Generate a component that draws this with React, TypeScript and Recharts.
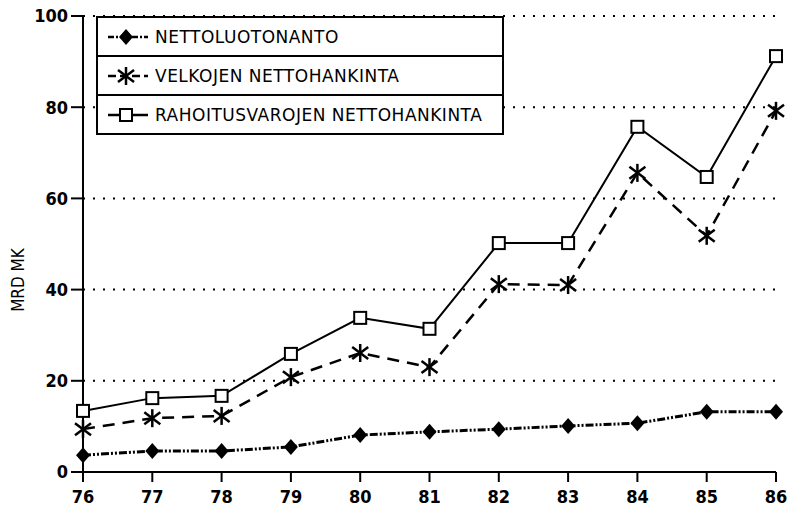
import { LineChart, Line, XAxis, YAxis, CartesianGrid } from 'recharts';

const years = ['76', '77', '78', '79', '80', '81', '82', '83', '84', '85', '86'];
const nettoluotonanto = [3.7, 4.6, 4.6, 5.5, 8.1, 8.8, 9.4, 10.1, 10.7, 13.2, 13.2];
const velkojen = [9.4, 11.8, 12.3, 20.8, 26.1, 23.0, 41.2, 41.0, 65.6, 51.8, 79.2];
const rahoitus = [13.4, 16.2, 16.7, 25.9, 33.8, 31.4, 50.2, 50.2, 75.7, 64.7, 91.2];
const yTicks = [0, 20, 40, 60, 80, 100];

const seriesNames = ['NETTOLUOTONANTO', 'VELKOJEN NETTOHANKINTA', 'RAHOITUSVAROJEN NETTOHANKINTA'];

const data = years.map((year, i) => ({
  year,
  netto: nettoluotonanto[i],
  velkojen: velkojen[i],
  rahoitus: rahoitus[i],
}));

const tickFont = { fontFamily: 'DejaVu Sans Condensed', fontWeight: 'bold', fontSize: 18, fill: '#000' };

function Diamond({ cx, cy }: any) {
  if (cx == null || cy == null) return null;
  return <polygon points={`${cx - 7},${cy} ${cx},${cy - 8} ${cx + 7},${cy} ${cx},${cy + 8}`} fill="#000" />;
}

function Star({ cx, cy }: any) {
  if (cx == null || cy == null) return null;
  return (
    <g stroke="#000" strokeWidth={2.5}>
      <line x1={cx} y1={cy - 9} x2={cx} y2={cy + 9} />
      <line x1={cx - 8} y1={cy - 6} x2={cx + 8} y2={cy + 6} />
      <line x1={cx - 8} y1={cy + 6} x2={cx + 8} y2={cy - 6} />
    </g>
  );
}

function Square({ cx, cy }: any) {
  if (cx == null || cy == null) return null;
  return <rect x={cx - 6} y={cy - 6} width={12} height={12} fill="#fff" stroke="#000" strokeWidth={2} />;
}

function LegendIcon({ kind }: { kind: number }) {
  const dash = kind === 0 ? '6 2 2 2' : kind === 1 ? '8 4' : undefined;
  return (
    <svg width={44} height={20} style={{ display: 'block' }}>
      <line x1={2} y1={10} x2={42} y2={10} stroke="#000" strokeWidth={2.5} strokeDasharray={dash} />
      {kind === 0 && <Diamond cx={20} cy={10} />}
      {kind === 1 && <Star cx={20} cy={10} />}
      {kind === 2 && <Square cx={20} cy={10} />}
    </svg>
  );
}

function YLabel() {
  return (
    <text x={19} y={280} transform="rotate(-90 19 280)" textAnchor="middle" dominantBaseline="middle"
      style={{ fontFamily: 'DejaVu Sans Condensed', fontSize: 17, fill: '#000' }}>
      MRD MK
    </text>
  );
}

export default function App() {
  return (
    <div style={{ position: 'relative', width: 789, height: 518, background: '#fff' }}>
      <style>{'body{margin:0}'}</style>
      <LineChart width={789} height={518} data={data} margin={{ top: 16, right: 13, bottom: 0, left: 23 }}>
        <CartesianGrid vertical={false} stroke="#000" strokeWidth={2} strokeDasharray="2 8" />
        <XAxis
          dataKey="year"
          height={46}
          tick={tickFont}
          tickSize={10}
          tickMargin={8}
          axisLine={{ stroke: '#000', strokeWidth: 2 }}
          tickLine={{ stroke: '#000', strokeWidth: 2 }}
          interval={0}
        />
        <YAxis
          width={60}
          domain={[0, 100]}
          ticks={yTicks}
          tick={tickFont}
          tickSize={12}
          tickMargin={3}
          axisLine={{ stroke: '#000', strokeWidth: 2 }}
          tickLine={{ stroke: '#000', strokeWidth: 2 }}
        />
        <Line dataKey="netto" stroke="#000" strokeWidth={3} strokeDasharray="8 2 2 2 2 2" dot={<Diamond />} isAnimationActive={false} />
        <Line dataKey="velkojen" stroke="#000" strokeWidth={2.5} strokeDasharray="12 8" dot={<Star />} isAnimationActive={false} />
        <Line dataKey="rahoitus" stroke="#000" strokeWidth={2} dot={<Square />} isAnimationActive={false} />
        <YLabel />
      </LineChart>
      <div style={{
        position: 'absolute', left: 96, top: 16, width: 404, background: '#fff',
        border: '2px solid #000', fontFamily: 'DejaVu Sans', fontSize: 17, letterSpacing: 0.5, color: '#000',
      }}>
        {seriesNames.map((name, i) => (
          <div key={name} style={{
            display: 'flex', alignItems: 'center', height: 37,
            borderTop: i > 0 ? '2px solid #000' : 'none', paddingLeft: 8,
          }}>
            <LegendIcon kind={i} />
            <span style={{ marginLeft: 5 }}>{name}</span>
          </div>
        ))}
      </div>
    </div>
  );
}
